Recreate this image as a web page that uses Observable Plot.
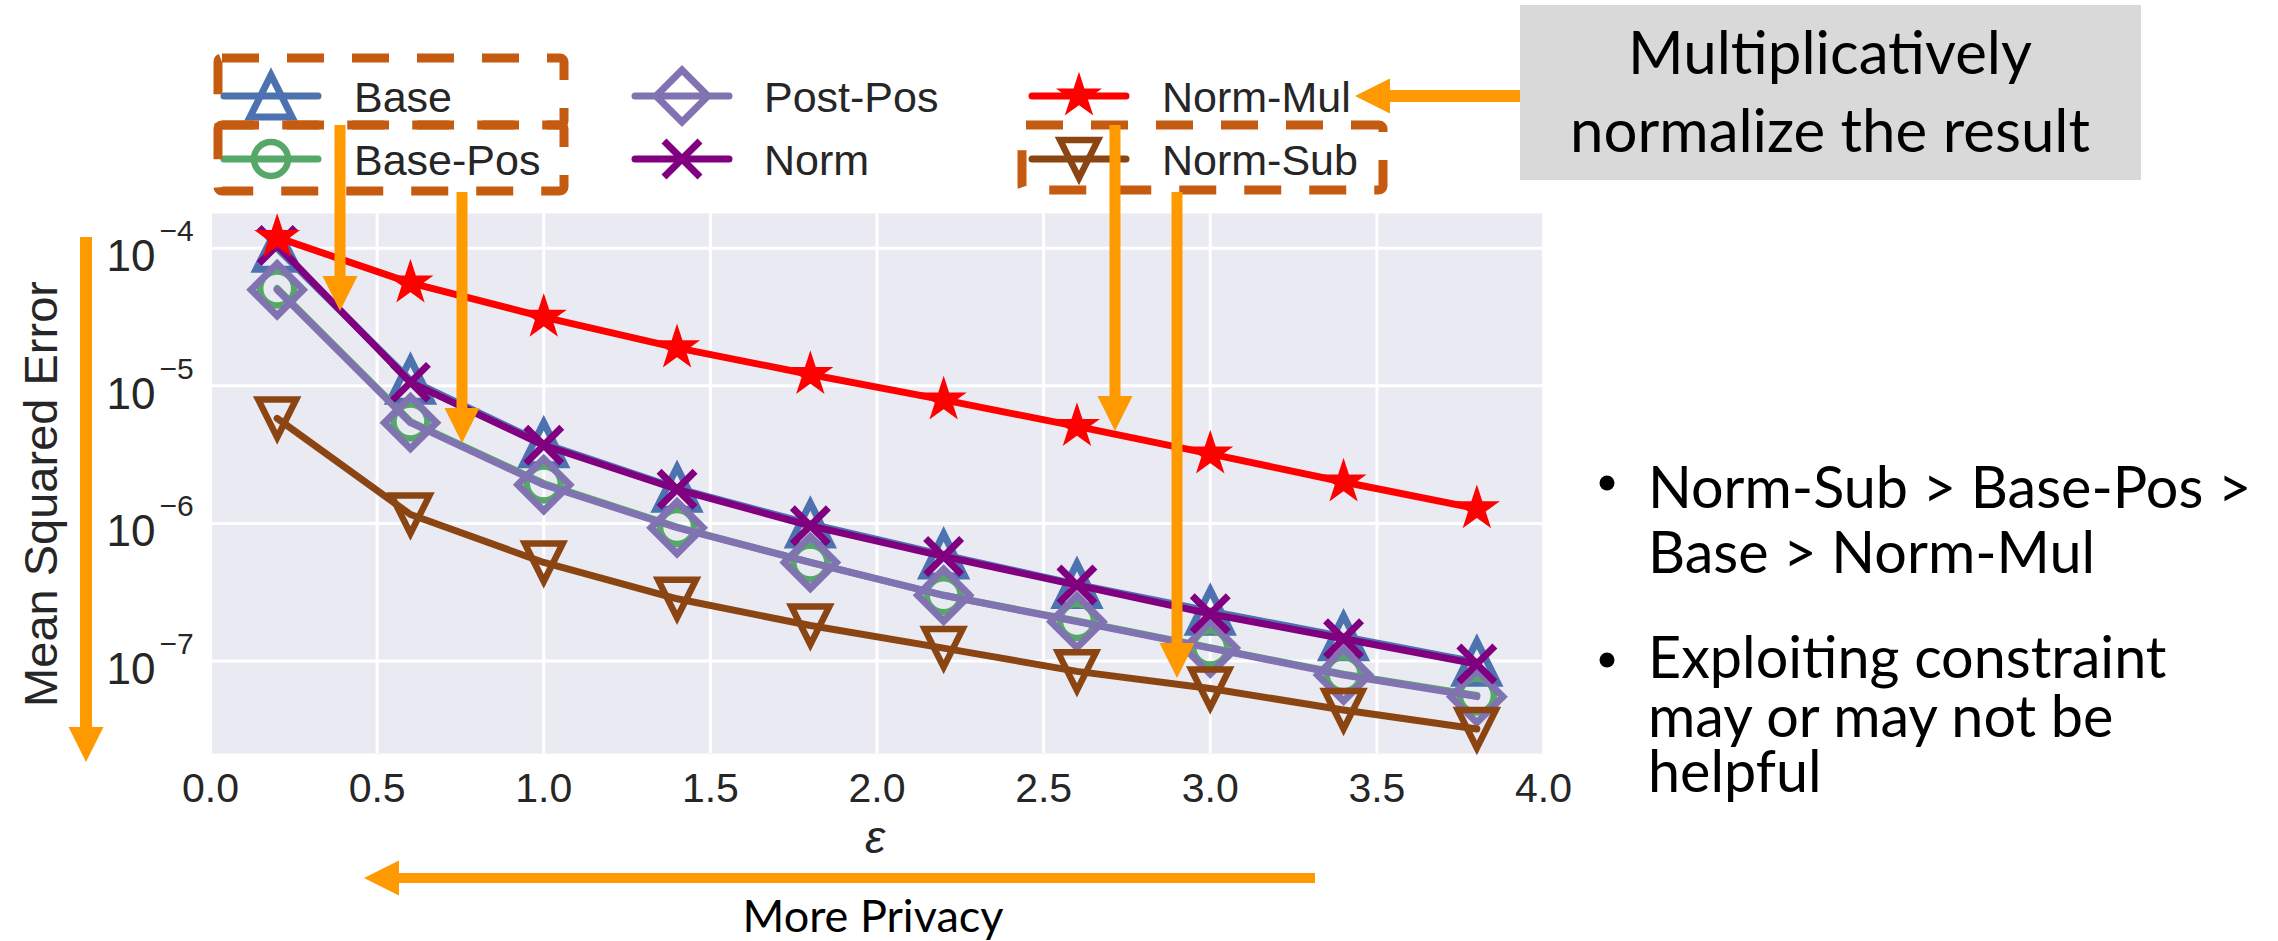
<!DOCTYPE html>
<html><head><meta charset="utf-8">
<script src="https://cdn.jsdelivr.net/npm/d3@7"></script>
<script src="https://cdn.jsdelivr.net/npm/@observablehq/plot@0.6"></script>
<style>body{margin:0;background:#fff;} svg{display:block}</style>
</head><body><div id="chart"></div>
<script>
// ---- data ----
const epsilon = [0.2, 0.6, 1.0, 1.4, 1.8, 2.2, 2.6, 3.0, 3.4, 3.8];
const base    = [1.0e-4, 1.1e-5, 3.8e-6, 1.8e-6, 9.9e-7, 5.9e-7, 3.6e-7, 2.3e-7, 1.5e-7, 9.8e-8];
const basePos = [5.1e-5, 5.5e-6, 1.95e-6, 9.4e-7, 5.2e-7, 3.0e-7, 1.95e-7, 1.25e-7, 8.0e-8, 5.6e-8];
const postPos = [5.0e-5, 5.4e-6, 1.91e-6, 9.3e-7, 5.2e-7, 3.0e-7, 1.93e-7, 1.24e-7, 7.9e-8, 5.5e-8];
const norm    = [1.05e-4, 1.06e-5, 3.7e-6, 1.77e-6, 9.6e-7, 5.75e-7, 3.56e-7, 2.2e-7, 1.45e-7, 9.5e-8];
const normMul = [1.2e-4, 5.6e-5, 3.16e-5, 1.89e-5, 1.21e-5, 7.9e-6, 5.07e-6, 3.2e-6, 2.0e-6, 1.28e-6];
const normSub = [5.8e-6, 1.16e-6, 5.2e-7, 2.83e-7, 1.81e-7, 1.24e-7, 8.4e-8, 6.3e-8, 4.4e-8, 3.2e-8];

const seriesNames  = ["Base", "Base-Pos", "Post-Pos", "Norm", "Norm-Mul", "Norm-Sub"];
const seriesValues = [base, basePos, postPos, norm, normMul, normSub];
const seriesColors = ["#4c72b0", "#55a868", "#8172b2", "#800080", "#ff0000", "#8b4513"];

const xTicks = [0, 0.5, 1.0, 1.5, 2.0, 2.5, 3.0, 3.5, 4.0];
const yTickExponents = [-4, -5, -6, -7];

const yLabel = "Mean Squared Error";
const xLabel = "ε";
const boxLines = ["Multiplicatively", "normalize the result"];
const bulletLines = [["Norm-Sub > Base-Pos >", "Base > Norm-Mul"], ["Exploiting constraint", "may or may not be", "helpful"]];
const arrowCaption = "More Privacy";

// ---- matplotlib-like marker symbols ----
const rad = s => Math.sqrt(s / Math.PI);
const symbols = {
  triUp: {draw(c, s) { const r = rad(s); c.moveTo(0, -r); c.lineTo(-r, r); c.lineTo(r, r); c.closePath(); }},
  triDown: {draw(c, s) { const r = rad(s); c.moveTo(0, r); c.lineTo(-r, -r); c.lineTo(r, -r); c.closePath(); }},
  circle: {draw(c, s) { const r = rad(s); c.moveTo(r, 0); c.arc(0, 0, r, 0, 2 * Math.PI); c.closePath(); }},
  diamond: {draw(c, s) { const r = rad(s); c.moveTo(0, -r); c.lineTo(r, 0); c.lineTo(0, r); c.lineTo(-r, 0); c.closePath(); }},
  times: {draw(c, s) { const r = rad(s); c.moveTo(-r, -r); c.lineTo(r, r); c.moveTo(-r, r); c.lineTo(r, -r); }},
  star: {draw(c, s) { const R = rad(s), ri = R * 0.381966;
    for (let i = 0; i < 10; i++) { const a = -Math.PI / 2 + i * Math.PI / 5, rr = i % 2 ? ri : R;
      const px = rr * Math.cos(a), py = rr * Math.sin(a); i ? c.lineTo(px, py) : c.moveTo(px, py); }
    c.closePath(); }}
};
const markerSpec = [
  {symbol: symbols.triUp, r: 21, fill: "none", sw: 7},
  {symbol: symbols.circle, r: 17, fill: "none", sw: 6.5},
  {symbol: symbols.diamond, r: 26, fill: "none", sw: 7},
  {symbol: symbols.times, r: 18, fill: "none", sw: 7},
  {symbol: symbols.star, r: 21, fill: "fill", sw: 2},
  {symbol: symbols.triDown, r: 19, fill: "none", sw: 6.5}
];

const table = seriesNames.flatMap((name, i) => epsilon.map((e, j) => ({series: name, eps: e, mse: seriesValues[i][j]})));

const seriesMarks = seriesNames.flatMap((name, i) => {
  const d = table.filter(r => r.series === name);
  const m = markerSpec[i];
  return [
    Plot.line(d, {x: "eps", y: "mse", stroke: seriesColors[i], strokeWidth: 7, strokeLinejoin: "round", strokeLinecap: "round"}),
    Plot.dot(d, {x: "eps", y: "mse", symbol: m.symbol, r: m.r, stroke: seriesColors[i], strokeWidth: m.sw,
      fill: m.fill === "fill" ? seriesColors[i] : "none", strokeLinejoin: "miter"})
  ];
});

const FONT = "'Liberation Sans', Arial, sans-serif";
const SLIDE = "Lato, 'Open Sans', sans-serif";

const plot = Plot.plot({
  width: 2278, height: 941,
  marginLeft: 210, marginRight: 735, marginTop: 213, marginBottom: 188,
  style: {background: "white", fontFamily: FONT, color: "#262626"},
  x: {domain: [0, 4]},
  y: {type: "log", domain: [10 ** -7.673, 10 ** -3.747], axis: null},
  marks: [
    Plot.frame({fill: "#eaeaf2", stroke: "none"}),
    Plot.gridX({ticks: xTicks, stroke: "white", strokeOpacity: 1, strokeWidth: 3}),
    Plot.gridY({ticks: yTickExponents.map(e => 10 ** e), stroke: "white", strokeOpacity: 1, strokeWidth: 3}),
    Plot.axisX({ticks: xTicks, tickFormat: d3.format(".1f"), tickSize: 0, tickPadding: 19, fontSize: 41, label: null, fill: "#262626"}),
    Plot.text(yTickExponents, {y: e => 10 ** e, frameAnchor: "left", text: () => "10", textAnchor: "end", lineAnchor: "bottom", dx: -55, dy: 23, fontSize: 44, fill: "#262626"}),
    Plot.text(yTickExponents, {y: e => 10 ** e, frameAnchor: "left", text: e => "\u2212" + Math.abs(e), textAnchor: "start", lineAnchor: "bottom", dx: -51, dy: -7, fontSize: 30, fill: "#262626"}),
    ...seriesMarks
  ]
});
document.getElementById("chart").appendChild(plot);

// ---- overlays (legend and slide annotations) ----
const svg = d3.select(plot);
const g = svg.append("g").attr("text-anchor", "start");
const ORANGE = "#ff9900";

// legend
const legendPos = [[271, 96, 354], [271, 159, 354], [682, 96, 764], [682, 159, 764], [1079, 96, 1162], [1079, 159, 1162]];
seriesNames.forEach((name, i) => {
  const [cx, cy, tx] = legendPos[i], m = markerSpec[i];
  g.append("line").attr("x1", cx - 47).attr("x2", cx + 47).attr("y1", cy).attr("y2", cy)
    .attr("stroke", seriesColors[i]).attr("stroke-width", 7).attr("stroke-linecap", "round");
  g.append("path").attr("transform", `translate(${cx},${cy})`)
    .attr("d", d3.symbol(m.symbol, Math.PI * m.r * m.r)())
    .attr("fill", m.fill === "fill" ? seriesColors[i] : "none").attr("stroke", seriesColors[i])
    .attr("stroke-width", m.sw).attr("stroke-linejoin", "miter");
  g.append("text").attr("x", tx).attr("y", cy + 16).attr("text-anchor", "start").text(name)
    .attr("font-family", FONT).attr("font-size", 43).attr("fill", "#262626");
});

// dashed boxes
[[218, 58, 346, 67], [218, 125, 346, 66], [1022, 125, 361, 65]].forEach(([x, y, w, h]) => {
  g.append("rect").attr("x", x).attr("y", y).attr("width", w).attr("height", h).attr("rx", 4)
    .attr("fill", "none").attr("stroke", "#c55a11").attr("stroke-width", 9).attr("stroke-dasharray", "37 28");
});

// arrows
function arrow(x1, y1, x2, y2, shaft = 11, headW = 35, headL = 35) {
  const dx = x2 - x1, dy = y2 - y1, L = Math.hypot(dx, dy), ux = dx / L, uy = dy / L, px = -uy, py = ux;
  const bx = x2 - ux * headL, by = y2 - uy * headL, s = shaft / 2, h = headW / 2;
  const pts = [[x1 + px * s, y1 + py * s], [bx + px * s, by + py * s], [bx + px * h, by + py * h], [x2, y2],
    [bx - px * h, by - py * h], [bx - px * s, by - py * s], [x1 - px * s, y1 - py * s]];
  g.append("polygon").attr("points", pts.map(p => p.join(",")).join(" ")).attr("fill", ORANGE);
}
arrow(340, 125, 340, 311);
arrow(462, 192, 462, 443);
arrow(1115, 125, 1115, 431);
arrow(1177, 192, 1177, 678);
arrow(1521, 96, 1355, 96, 12);
arrow(86, 237, 86, 762, 12);
arrow(1315, 878, 364, 878, 10);

// gray note box
g.append("rect").attr("x", 1520).attr("y", 5).attr("width", 621).attr("height", 175).attr("fill", "#d9d9d9");
boxLines.forEach((t, i) => g.append("text").attr("x", 1830).attr("y", [74, 152][i]).attr("text-anchor", "middle")
  .attr("font-family", SLIDE).attr("font-size", 60).attr("fill", "#000").text(t));

// bullets
const bulletY = [[508, 573], [678, 737, 792]];
const bulletDot = [483, 660];
bulletLines.forEach((lines, b) => {
  g.append("circle").attr("cx", 1607).attr("cy", bulletDot[b]).attr("r", 7.5).attr("fill", "#000");
  lines.forEach((t, i) => g.append("text").attr("x", 1648).attr("y", bulletY[b][i]).attr("text-anchor", "start")
    .attr("font-family", SLIDE).attr("font-size", 57.5).attr("fill", "#000").text(t));
});

// axis labels
g.append("text").attr("transform", "translate(57,494) rotate(-90)").attr("text-anchor", "middle")
  .attr("font-family", FONT).attr("font-size", 47).attr("fill", "#262626").text(yLabel);
g.append("text").attr("x", 875).attr("y", 853).attr("text-anchor", "middle").attr("font-style", "italic")
  .attr("font-family", FONT).attr("font-size", 46).attr("fill", "#262626").text(xLabel);
g.append("text").attr("x", 873).attr("y", 932).attr("text-anchor", "middle")
  .attr("font-family", SLIDE).attr("font-size", 45).attr("fill", "#000").text(arrowCaption);
</script>
</body></html>
